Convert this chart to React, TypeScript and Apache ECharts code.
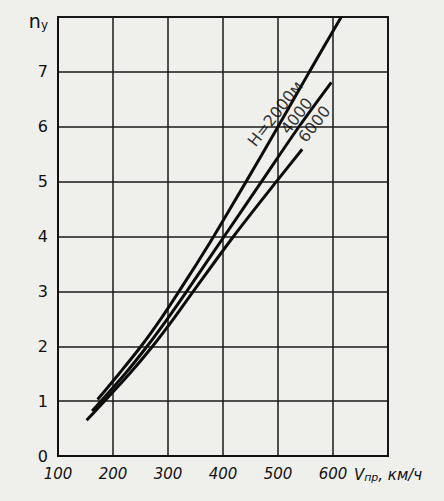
import React, { useEffect, useRef } from "react";
import * as echarts from "echarts";

const xTicks = [100, 200, 300, 400, 500, 600, 700];
const yTicks = [0, 1, 2, 3, 4, 5, 6, 7, 8];

const seriesNames = ["H=2000м", "4000", "6000"];
const curve2000: [number, number][] = [
  [172, 1.03], [211, 1.5], [251, 2], [287, 2.5], [320, 3], [352, 3.5], [383, 4],
  [442, 5], [500, 6], [557, 7], [615, 8],
];
const curve4000: [number, number][] = [
  [162, 0.82], [222, 1.5], [262, 2], [299, 2.5], [334, 3], [402, 4], [470, 5],
  [538, 6], [597, 6.81],
];
const curve6000: [number, number][] = [
  [152, 0.65], [230, 1.5], [272, 2], [310, 2.5], [346, 3], [419, 4], [497, 5], [544, 5.59],
];
const labelAnchors: [number, number][] = [
  [495, 6.24], [534, 6.2], [566, 6.05],
];

export default function App() {
  const ref = useRef<HTMLDivElement>(null);
  useEffect(() => {
    document.body.style.margin = "0";
    const chart = echarts.init(ref.current!, undefined, { renderer: "svg" });
    const curves = [curve2000, curve4000, curve6000];
    chart.setOption({
      animation: false,
      backgroundColor: "#efefec",
      grid: {
        left: 58, right: 56, top: 17, bottom: 45,
        show: true, borderColor: "#111", borderWidth: 2,
      },
      xAxis: {
        type: "value", min: xTicks[0], max: xTicks[xTicks.length - 1], interval: 100,
        axisLine: { show: true, lineStyle: { color: "#111", width: 2 } },
        axisTick: { show: false },
        splitLine: { show: true, lineStyle: { color: "#1a1a1a", width: 1.5 } },
        axisLabel: {
          margin: 10,
          color: "#111",
          fontFamily: "DejaVu Sans",
          fontStyle: "italic",
          fontSize: 15,
          formatter: (v: number) =>
            v === 700 ? "{v|V}{s|пр}{v|, км/ч}" : String(v),
          rich: {
            v: { fontSize: 15, fontStyle: "italic", fontFamily: "DejaVu Sans", color: "#111" },
            s: { fontSize: 11, fontStyle: "italic", fontFamily: "DejaVu Sans", color: "#111", padding: [6, 0, 0, 0] },
          },
        },
      },
      yAxis: {
        type: "value", min: yTicks[0], max: yTicks[yTicks.length - 1], interval: 1,
        axisLine: { show: true, lineStyle: { color: "#111", width: 2 } },
        axisTick: { show: false },
        splitLine: { show: true, lineStyle: { color: "#1a1a1a", width: 1.5 } },
        axisLabel: {
          margin: 10,
          color: "#111",
          fontFamily: "DejaVu Sans",
          fontSize: 16,
          formatter: (v: number) => (v === 8 ? "{n|n}{s|y}" : String(v)),
          rich: {
            n: { fontSize: 19, fontFamily: "DejaVu Sans", color: "#111", padding: [8, 0, 0, 0] },
            s: { fontSize: 12, fontFamily: "DejaVu Sans", color: "#111", padding: [16, 0, 0, 0] },
          },
        },
      },
      series: [
        ...curves.map((c, i) => ({
          name: seriesNames[i],
          type: "line",
          data: c,
          smooth: 0.3,
          showSymbol: false,
          symbol: "none",
          lineStyle: { color: "#0d0d0d", width: 3 },
          z: 5,
        })),
        {
          type: "scatter",
          symbolSize: 0,
          data: labelAnchors.map((p, i) => ({ value: p, name: seriesNames[i] })),
          label: {
            show: true,
            position: "inside",
            rotate: 52,
            align: "center",
            verticalAlign: "middle",
            formatter: (p: any) => p.name,
            fontFamily: "DejaVu Sans",
            fontSize: 16,
            color: "#000",
          },
          z: 10,
        },
      ],
    });
    return () => chart.dispose();
  }, []);
  return <div ref={ref} style={{ width: 444, height: 501, background: "#efefec" }} />;
}
